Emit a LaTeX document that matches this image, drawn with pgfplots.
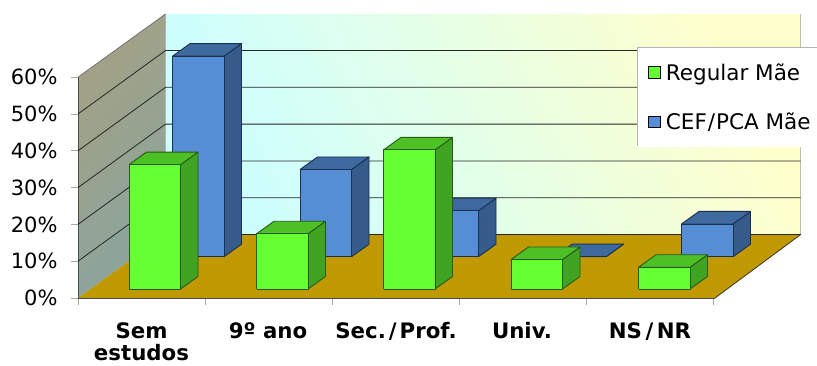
\documentclass[border=0pt]{standalone}
\usepackage{fontspec}
\setmainfont{DejaVu Sans}
\usepackage{pgfplots}
\usepackage{pgfplotstable}
\pgfplotsset{compat=1.18}

% Left edge of each column's front face (px-like units) and its height in percent
\pgfplotstableread{
left  value
129.0 33.8
256.5 15.0
383.5 37.8
511.0  8.0
638.5  5.9
}\regularmae
\pgfplotstableread{
left  value
172.5 54.5
300.0 23.7
427.0 12.5
554.5  0.0
681.5  8.9
}\cefpcamae

\definecolor{gfront}{HTML}{66FF33}
\definecolor{gtop}{HTML}{4DC026}
\definecolor{gside}{HTML}{40A322}
\definecolor{gedge}{HTML}{2A5A1A}
\definecolor{bfront}{HTML}{558ED5}
\definecolor{btop}{HTML}{3F6AA0}
\definecolor{bside}{HTML}{365C8C}
\definecolor{bedge}{HTML}{1B3050}
\definecolor{floorc}{HTML}{C09900}
\definecolor{wallA}{HTML}{A3A184}
\definecolor{wallB}{HTML}{89A59E}
\definecolor{backA}{HTML}{CCFFFF}
\definecolor{backB}{HTML}{FFFFCC}
\definecolor{rightedge}{HTML}{C0C0B0}

% Oblique box: side face, top face, front face
\newcommand{\columnbox}[5]{% left, value, base, faces prefix, edge colour
  \pgfmathsetmacro\xa{#1}\pgfmathsetmacro\xb{#1+51.5}
  \pgfmathsetmacro\xc{\xb+17.5}\pgfmathsetmacro\xd{\xa+17.5}
  \pgfmathsetmacro\ya{#3}\pgfmathsetmacro\yb{#3+#2}
  \pgfmathsetmacro\yc{\yb+3.4}\pgfmathsetmacro\yd{\ya+3.4}
  \addplot[forget plot,mark=none,fill=#4side,draw=#5,line width=.9pt,line join=round]
    coordinates {(\xb,\ya)(\xc,\yd)(\xc,\yc)(\xb,\yb)(\xb,\ya)};
  \addplot[forget plot,mark=none,fill=#4top,draw=#5,line width=.9pt,line join=round]
    coordinates {(\xa,\yb)(\xb,\yb)(\xc,\yc)(\xd,\yc)(\xa,\yb)};
  \addplot[forget plot,mark=none,fill=#4front,draw=#5,line width=.9pt,line join=round]
    coordinates {(\xa,\ya)(\xb,\ya)(\xb,\yb)(\xa,\yb)(\xa,\ya)};
}
\newcommand{\seriesboxes}[4]{% table, base, faces prefix, edge colour
  \pgfplotsforeachungrouped \i in {0,...,4}{%
    \pgfplotstablegetelem{\i}{left}\of#1\let\bl\pgfplotsretval
    \pgfplotstablegetelem{\i}{value}\of#1\let\bv\pgfplotsretval
    \columnbox{\bl}{\bv}{#2}{#3}{#4}%
  }%
}

\begin{document}
\begin{tikzpicture}
\useasboundingbox (0,0) rectangle (817pt,365pt);
\begin{axis}[
  at={(78pt,67pt)}, anchor=south west,
  scale only axis, width=722.7pt, height=284pt,
  xmin=78, xmax=800.7, ymin=0, ymax=77.17,
  clip=false,
  axis line style={draw=none},
  tick align=outside,
  xtick pos=bottom, ytick pos=left,
  ytick={0,10,20,30,40,50,60},
  yticklabels={0\%,10\%,20\%,30\%,40\%,50\%,60\%},
  yticklabel style={font=\fontsize{21}{21}\selectfont,xshift=-10pt},
  xtick={141.5,268,396,522,650},
  xticklabels={{Sem\\estudos},9º ano,Sec.\kern3pt/\kern3pt Prof.,Univ.,NS\kern3.5pt/\kern3.5pt NR},
  xticklabel style={font=\fontsize{21.3}{21.5}\selectfont\bfseries,align=center,
    inner sep=0pt,yshift=-17.5pt},
  minor xtick={78,205,332.5,459.7,586.5,713.7},
  major tick length=7pt, minor tick length=7pt,
  x tick style={draw=none},
  minor x tick style={draw=gray!70,line width=.7pt},
  y tick style={draw=gray!70,line width=.7pt},
  legend style={at={(axis cs:648,64.2)},anchor=north west,draw=none,fill=none,
    font=\fontsize{21.5}{21.5}\selectfont,row sep=27pt,inner sep=0pt,outer sep=0pt},
  legend cell align=left,
  legend image code/.code={\path[#1] (0pt,-5.5pt) rectangle (12pt,6pt);\path[draw=none,fill=none] (0pt,0pt) -- (15.5pt,0pt);},
]
% side wall
\addplot[forget plot,mark=none,draw=none,bottom color=wallB,top color=wallA,shading angle=50]
  coordinates {(78,0)(165.5,17.25)(165.5,77.17)(78,60)(78,0)};
% back wall
\addplot[forget plot,mark=none,draw=none,bottom color=backA,top color=backB,shading angle=-65]
  coordinates {(165.5,17.25)(800.7,17.25)(800.7,77.17)(165.5,77.17)(165.5,17.25)};
% floor
\addplot[forget plot,mark=none,fill=floorc,draw=none]
  coordinates {(78,0)(165.5,17.25)(800.7,17.25)(715,0)(78,0)};
% wall and floor edges
\addplot[forget plot,mark=none,draw=gray!60,line width=1pt] coordinates {(165.5,17.25)(165.5,77.17)};
\addplot[forget plot,mark=none,draw=rightedge,line width=1.2pt] coordinates {(800.7,17.25)(800.7,77.17)};
\addplot[forget plot,mark=none,draw=black!70,line width=1pt] coordinates {(78,60)(78,0)(715,0)};
\addplot[forget plot,mark=none,draw=black!80,line width=.8pt] coordinates {(715,0)(800.7,17.25)};
\addplot[forget plot,mark=none,draw=black!55,line width=.8pt] coordinates {(78,60)(165.5,77.17)};
% gridlines across side and back walls
\pgfplotsforeachungrouped \g in {10,20,30,40,50}{%
  \pgfmathsetmacro\gb{\g+17.25}
  \addplot[forget plot,mark=none,draw=black!85,line width=.8pt]
    coordinates {(78,\g)(165.5,\gb)(800.7,\gb)};
}
\addplot[forget plot,mark=none,draw=black!85,line width=.8pt] coordinates {(165.5,17.25)(800.7,17.25)};
% columns, rear row first
\seriesboxes{\cefpcamae}{11.22}{b}{bedge}
\seriesboxes{\regularmae}{2.45}{g}{gedge}
% legend panel
\addplot[forget plot,mark=none,fill=white,draw=none] coordinates {(637,41)(817,41)(817,68)(637,68)(637,41)};
\addplot[forget plot,mark=none,draw=gray!60,line width=.8pt] coordinates {(637,41.2)(637,68.2)(817,68.2)};
\addlegendimage{fill=gfront,draw=black,line width=.8pt}
\addlegendentry{Regular Mãe}
\addlegendimage{fill=bfront,draw=black,line width=.8pt}
\addlegendentry{CEF\kern1pt/\kern1pt PCA Mãe}
\end{axis}
\end{tikzpicture}
\end{document}
